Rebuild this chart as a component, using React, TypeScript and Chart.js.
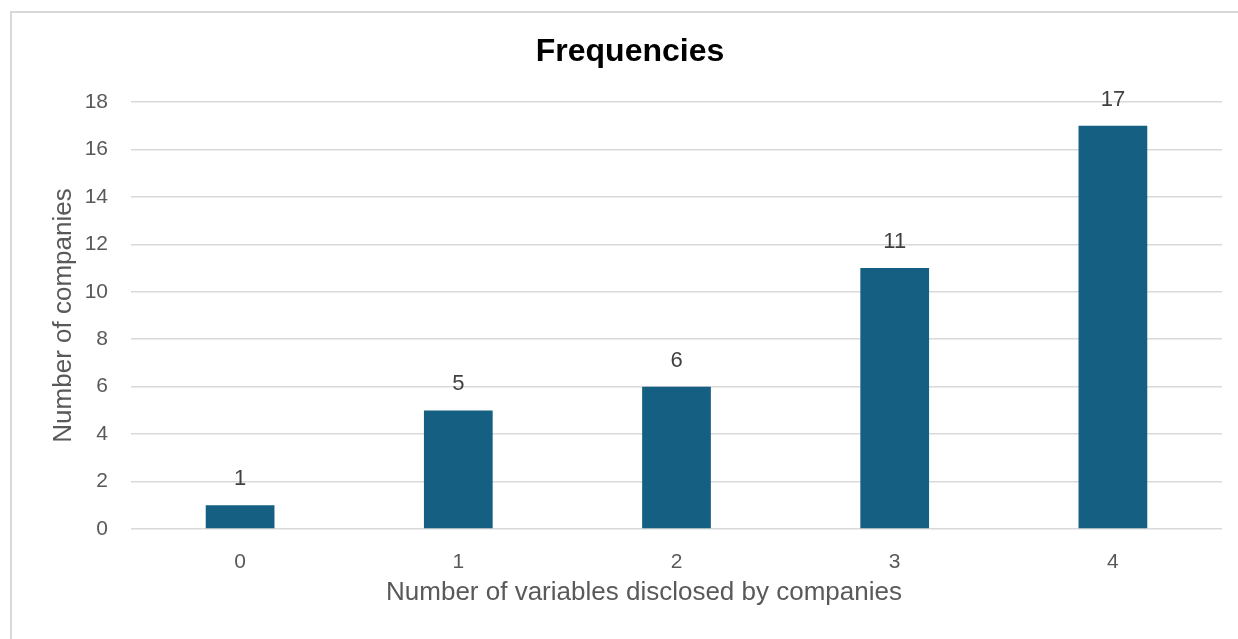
import React, { useEffect, useRef } from "react";
import { Chart, registerables } from "chart.js";

Chart.register(...registerables);

const categories = ["0", "1", "2", "3", "4"];
const companies = [1, 5, 6, 11, 17];
const yTicks = [0, 2, 4, 6, 8, 10, 12, 14, 16, 18];

const chartTitle = "Frequencies";
const xTitle = "Number of variables disclosed by companies";
const yTitle = "Number of companies";

const FONT = "'Liberation Sans', Arial, sans-serif";
const BAR = "#156082";
const GRID = "#d9d9d9";
const TICK = "#595959";

// Value labels above bars, plus the chart and horizontal axis titles.
const overlay = {
  id: "overlay",
  afterDatasetsDraw(chart: any) {
    const { ctx } = chart;
    const meta = chart.getDatasetMeta(0);
    ctx.save();
    ctx.fillStyle = "#404040";
    ctx.font = `22px ${FONT}`;
    ctx.textAlign = "center";
    ctx.textBaseline = "middle";
    meta.data.forEach((bar: any, i: number) => {
      ctx.fillText(String(companies[i]), bar.x, bar.y - 26);
    });

    ctx.fillStyle = "#000000";
    ctx.font = `bold 32px ${FONT}`;
    ctx.fillText(chartTitle, 630, 52);

    ctx.fillStyle = TICK;
    ctx.font = `26px ${FONT}`;
    ctx.fillText(xTitle, 644, 593);
    ctx.restore();
  },
};

export default function App() {
  const ref = useRef<HTMLCanvasElement>(null);

  useEffect(() => {
    if (!ref.current) return;
    const chart = new Chart(ref.current, {
      type: "bar",
      data: {
        labels: categories,
        datasets: [
          {
            data: companies,
            backgroundColor: BAR,
            borderWidth: 0,
            barPercentage: 0.315,
            categoryPercentage: 1,
          },
        ],
      },
      options: {
        responsive: false,
        animation: false,
        layout: { padding: { top: 102, right: 16, left: 0, bottom: 0 } },
        plugins: {
          legend: { display: false },
          tooltip: { enabled: false },
          title: { display: false },
        },
        scales: {
          x: {
            grid: { display: false, drawTicks: false },
            border: { display: false },
            ticks: { color: TICK, font: { family: FONT, size: 21 }, padding: 21 },
            afterFit: (s: any) => {
              s.height = 110;
            },
          },
          y: {
            min: 0,
            max: 18,
            afterBuildTicks: (s: any) => {
              s.ticks = yTicks.map((v) => ({ value: v }));
            },
            grid: { color: GRID, lineWidth: 1.5, drawTicks: false },
            border: { display: false },
            ticks: { color: TICK, font: { family: FONT, size: 21 }, padding: 23 },
            title: {
              display: true,
              text: yTitle,
              color: TICK,
              font: { family: FONT, size: 26 },
              padding: { top: 48, bottom: 0 },
            },
            afterFit: (s: any) => {
              s.width = 131;
            },
          },
        },
      },
      plugins: [overlay],
    });
    return () => chart.destroy();
  }, []);

  return (
    <div
      style={{
        position: "fixed",
        left: 0,
        top: 0,
        width: 1238,
        height: 639,
        overflow: "hidden",
        background: "#ffffff",
      }}
    >
      <div
        style={{
          position: "absolute",
          left: 10,
          top: 11,
          width: 1300,
          height: 700,
          border: "2px solid #d9d9d9",
          boxSizing: "border-box",
        }}
      />
      <canvas ref={ref} width={1238} height={639} style={{ position: "absolute", left: 0, top: 0 }} />
    </div>
  );
}
